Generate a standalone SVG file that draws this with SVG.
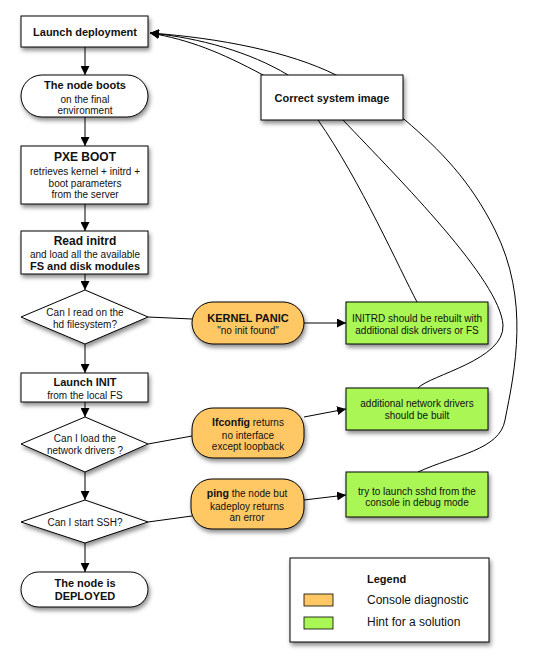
<svg xmlns="http://www.w3.org/2000/svg" width="534" height="666" viewBox="0 0 534 666">
<defs>
<filter id="sh" x="-20%" y="-20%" width="150%" height="160%">
<feDropShadow dx="1.5" dy="3" stdDeviation="2" flood-color="#000" flood-opacity="0.45"/>
</filter>
<marker id="ah" viewBox="0 0 10 10" refX="10" refY="5" markerWidth="9" markerHeight="9" markerUnits="userSpaceOnUse" orient="auto">
<path d="M0,0 L10,5 L0,10 z" fill="#000"/>
</marker>
</defs>
<style>
text{font-family:"Liberation Sans",Arial,sans-serif;font-size:10px;fill:#111;text-anchor:middle}
.b{font-weight:bold;font-size:11px}
.box{fill:#fff;stroke:#000;stroke-width:1;filter:url(#sh)}
.or{fill:#FFC865;stroke:#000;stroke-width:1;filter:url(#sh)}
.gr{fill:#AAF655;stroke:#000;stroke-width:1;filter:url(#sh)}
.ln{fill:none;stroke:#000;stroke-width:1}
.ar{fill:none;stroke:#000;stroke-width:1;marker-end:url(#ah)}
</style>
<rect width="534" height="666" fill="#fff"/>
<g id="connectors">
<path class="ar" d="M85,47 L85,75"/>
<path class="ar" d="M85,117 L85,146"/>
<path class="ar" d="M85,204 L85,231"/>
<path class="ar" d="M85,274 L85,290"/>
<path class="ar" d="M85,344 L85,373"/>
<path class="ar" d="M85,402 L85,417"/>
<path class="ar" d="M85,472 L85,500"/>
<path class="ar" d="M85,543 L85,572"/>
<path class="ln" d="M148,317 L192,319"/>
<path class="ln" d="M148,444 L192,436"/>
<path class="ln" d="M148,522 L192,516"/>
<path class="ar" d="M304,323 L346,323"/>
<path class="ar" d="M304,417 L346,409"/>
<path class="ar" d="M304,500 L346,495"/>
<path class="ar" d="M417,302 C400,270 360,180 318,120 C300,95 280,85 263,75 C220,52 190,40 150,33"/>
<path class="ar" d="M418,388 C430,375 505,360 503,325 C500,280 400,180 343,120 C320,100 305,88 288,75 C250,52 200,38 150,33"/>
<path class="ar" d="M418,472 C455,455 500,450 505,420 C515,370 530,300 495,230 C470,180 440,150 405,120 C380,100 360,88 336,75 C290,52 220,38 150,33"/>
</g>
<g id="launch-deployment">
<rect class="box" x="21" y="16" width="127" height="31"/>
<text class="b" x="85" y="36">Launch deployment</text>
</g>
<g id="node-boots">
<rect class="box" x="21" y="75" width="127" height="42" rx="21"/>
<text class="b" x="85" y="89">The node boots</text>
<text x="85" y="103">on the final</text>
<text x="85" y="114">environment</text>
</g>
<g id="pxe-boot">
<rect class="box" x="21" y="146" width="127" height="58"/>
<text class="b" x="85" y="161" style="font-size:12px">PXE BOOT</text>
<text x="85" y="175">retrieves kernel + initrd +</text>
<text x="85" y="187">boot parameters</text>
<text x="85" y="198">from the server</text>
</g>
<g id="read-initrd">
<rect class="box" x="21" y="231" width="127" height="43"/>
<text class="b" x="85" y="245" style="font-size:12px">Read initrd</text>
<text x="85" y="258">and load all the available</text>
<text class="b" x="85" y="270">FS and disk modules</text>
</g>
<g id="q-read-hd">
<polygon class="box" points="85,290 148,317 85,344 21,317"/>
<text x="85" y="316">Can I read on the</text>
<text x="85" y="328">hd filesystem?</text>
</g>
<g id="launch-init">
<rect class="box" x="21" y="373" width="127" height="29"/>
<text class="b" x="85" y="386">Launch INIT</text>
<text x="85" y="399">from the local FS</text>
</g>
<g id="q-network">
<polygon class="box" points="85,417 148,444 85,472 21,444"/>
<text x="85" y="442">Can I load the</text>
<text x="85" y="454">network drivers ?</text>
</g>
<g id="q-ssh">
<polygon class="box" points="85,500 148,522 85,543 21,522"/>
<text x="85" y="526">Can I start SSH?</text>
</g>
<g id="deployed">
<rect class="box" x="21" y="572" width="127" height="35" rx="17.5"/>
<text class="b" x="85" y="587">The node is</text>
<text class="b" x="85" y="600">DEPLOYED</text>
</g>
<g id="correct-image">
<rect class="box" x="261" y="75" width="142" height="45"/>
<text class="b" x="332" y="102">Correct system image</text>
</g>
<g id="kernel-panic">
<rect class="or" x="192" y="302" width="112" height="42" rx="21"/>
<text class="b" x="248" y="322">KERNEL PANIC</text>
<text x="248" y="334">"no init found"</text>
</g>
<g id="initrd-hint">
<rect class="gr" x="346" y="302" width="142" height="42"/>
<text x="417" y="322">INITRD should be rebuilt with</text>
<text x="417" y="334">additional disk drivers or FS</text>
</g>
<g id="ifconfig">
<rect class="or" x="192" y="408" width="112" height="50" rx="21"/>
<text x="248" y="426"><tspan style="font-weight:bold;font-size:10.5px">Ifconfig</tspan> returns</text>
<text x="248" y="439">no interface</text>
<text x="248" y="450">except loopback</text>
</g>
<g id="network-hint">
<rect class="gr" x="346" y="388" width="142" height="42"/>
<text x="417" y="407">additional network drivers</text>
<text x="417" y="419">should be built</text>
</g>
<g id="ping">
<rect class="or" x="191" y="479" width="113" height="50" rx="21"/>
<text x="247" y="497"><tspan style="font-weight:bold;font-size:10.5px">ping</tspan> the node but</text>
<text x="247" y="510">kadeploy returns</text>
<text x="247" y="521">an error</text>
</g>
<g id="ssh-hint">
<rect class="gr" x="346" y="472" width="142" height="45"/>
<text x="417" y="495">try to launch sshd from the</text>
<text x="417" y="506">console in debug mode</text>
</g>
<g id="legend">
<rect class="box" x="290" y="558" width="199" height="84"/>
<text class="b" x="367" y="583" style="text-anchor:start">Legend</text>
<rect x="304" y="594" width="29" height="12" fill="#FFC865" stroke="#000" stroke-width="0.8"/>
<text x="367" y="604" style="text-anchor:start;font-size:12px">Console diagnostic</text>
<rect x="304" y="617" width="29" height="12" fill="#AAF655" stroke="#000" stroke-width="0.8"/>
<text x="367" y="626" style="text-anchor:start;font-size:12px">Hint for a solution</text>
</g>
</svg>
